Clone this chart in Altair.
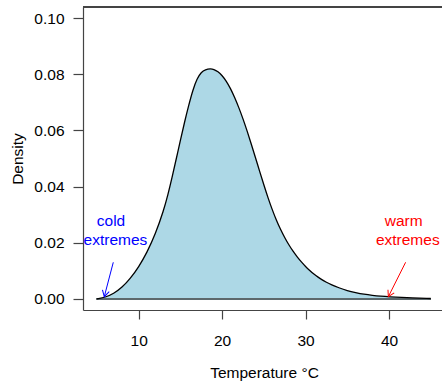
import altair as alt
import pandas as pd

# Density curve (temperature in °C, density)
temp = [5.0, 6.0, 7.0, 8.0, 9.0, 10.0, 11.0, 12.0, 13.0, 13.5, 14.0, 14.5, 15.0,
        15.5, 16.0, 16.5, 17.0, 17.5, 18.0, 18.6, 19.0, 19.5, 20.0, 20.5, 21.0,
        21.5, 22.0, 22.5, 23.0, 23.5, 24.0, 24.5, 25.0, 25.5, 26.0, 26.5, 27.0,
        27.5, 28.0, 28.5, 29.0, 29.5, 30.0, 30.5, 31.0, 31.5, 32.0, 32.5, 33.0,
        34.0, 35.0, 36.0, 37.0, 38.0, 39.0, 40.0, 42.0, 45.0]
density = [0.0000, 0.0005, 0.0018, 0.0040, 0.0072, 0.0113, 0.0165, 0.0230, 0.0315,
           0.0370, 0.0432, 0.0498, 0.0565, 0.0630, 0.0690, 0.0745, 0.0785, 0.0808,
           0.0817, 0.0820, 0.0818, 0.0810, 0.0796, 0.0776, 0.0750, 0.0718, 0.0682,
           0.0642, 0.0598, 0.0551, 0.0503, 0.0454, 0.0406, 0.0360, 0.0318, 0.0280,
           0.0247, 0.0218, 0.0192, 0.0169, 0.0149, 0.0131, 0.0115, 0.0101, 0.0088,
           0.0077, 0.0067, 0.0059, 0.0051, 0.0039, 0.0029, 0.0022, 0.0016, 0.0012,
           0.0009, 0.0007, 0.0004, 0.0001]

# Annotations
note_text = ["cold", "extremes", "warm", "extremes"]
note_x = [6.685, 7.22, 41.76, 42.25]
note_y = [0.0258, 0.0192, 0.0258, 0.0192]
note_side = ["cold", "cold", "warm", "warm"]

arrow_side = ["cold", "warm"]
arrow_x0 = [6.96, 41.99]
arrow_y0 = [0.013, 0.013]
arrow_x1 = [5.88, 39.92]
arrow_y1 = [0.00075, 0.00075]

x_ticks = [10, 20, 30, 40]
y_ticks = [0.0, 0.02, 0.04, 0.06, 0.08, 0.10]

FONT = "Liberation Sans"
FS = 15.5

curve = pd.DataFrame({"temp": temp, "density": density})
notes = pd.DataFrame({"text": note_text, "x": note_x, "y": note_y, "side": note_side})
arrows = pd.DataFrame({"side": arrow_side, "x0": arrow_x0, "y0": arrow_y0,
                       "x1": arrow_x1, "y1": arrow_y1})

xscale = alt.Scale(domain=[3.33, 46.35], nice=False, zero=False)
yscale = alt.Scale(domain=[-0.004, 0.104], nice=False, zero=False)
cscale = alt.Scale(domain=["cold", "warm"], range=["#0000FF", "#FF0000"])

xaxis = alt.Axis(values=x_ticks, title="Temperature °C", grid=False,
                 tickSize=9, labelPadding=21, labelBaseline="middle",
                 labelFont=FONT, labelFontSize=FS, labelColor="black",
                 titleFont=FONT, titleFontSize=FS, titleFontWeight="normal",
                 titleColor="black", titleX=181, titleY=62, titleBaseline="middle",
                 titleAlign="center", domainColor="#444", tickColor="#444",
                 domainWidth=1.2, tickWidth=1.2)
yaxis = alt.Axis(values=y_ticks, format=".2f", title="Density", grid=False,
                 tickSize=10, labelPadding=9, labelFont=FONT, labelFontSize=FS,
                 labelColor="black", titleFont=FONT, titleFontSize=FS,
                 titleFontWeight="normal", titleColor="black", titleX=-66,
                 titleY=151.5, titleAngle=270, titleAlign="center",
                 titleBaseline="middle", domainColor="#444", tickColor="#444",
                 domainWidth=1.2, tickWidth=1.2)

base = alt.Chart(curve)

area = base.mark_area(color="#ADD8E6", interpolate="basis").encode(
    x=alt.X("temp:Q", scale=xscale, axis=xaxis),
    y=alt.Y("density:Q", scale=yscale, axis=yaxis),
    y2=alt.datum(0),
)

baseline = base.mark_rule(color="#5d686c", strokeWidth=1.4).encode(
    x=alt.datum(5), x2=alt.datum(45), y=alt.datum(0)
)

line = base.mark_line(color="black", strokeWidth=1.3, interpolate="basis").encode(
    x=alt.X("temp:Q", scale=xscale),
    y=alt.Y("density:Q", scale=yscale),
)

top_line = base.mark_rule(color="#444", strokeWidth=1.2).encode(
    x=alt.value(0), x2=alt.value(359), y=alt.value(0)
)

text = alt.Chart(notes).mark_text(font=FONT, fontSize=FS, align="center",
                                  baseline="alphabetic").encode(
    x=alt.X("x:Q", scale=xscale),
    y=alt.Y("y:Q", scale=yscale),
    text="text:N",
    color=alt.Color("side:N", scale=cscale, legend=None),
)

shafts = alt.Chart(arrows).mark_rule(strokeWidth=1).encode(
    x=alt.X("x0:Q", scale=xscale),
    y=alt.Y("y0:Q", scale=yscale),
    x2="x1:Q",
    y2="y1:Q",
    color=alt.Color("side:N", scale=cscale, legend=None),
)

head_shape = "M -0.5 -0.866 L 0 0 L 0.5 -0.866"
head_cold = alt.Chart(arrows).transform_filter(alt.datum.side == "cold").mark_point(
    shape=head_shape, filled=False, size=196, strokeWidth=1, angle=15, opacity=1
).encode(
    x=alt.X("x1:Q", scale=xscale),
    y=alt.Y("y1:Q", scale=yscale),
    color=alt.Color("side:N", scale=cscale, legend=None),
)
head_warm = alt.Chart(arrows).transform_filter(alt.datum.side == "warm").mark_point(
    shape=head_shape, filled=False, size=196, strokeWidth=1, angle=27, opacity=1
).encode(
    x=alt.X("x1:Q", scale=xscale),
    y=alt.Y("y1:Q", scale=yscale),
    color=alt.Color("side:N", scale=cscale, legend=None),
)

chart = alt.layer(area, baseline, line, top_line, text, shafts, head_cold, head_warm).properties(
    width=359, height=303,
    padding={"left": 83, "top": 7, "right": 0, "bottom": 72},
    autosize=alt.AutoSizeParams(type="none"),
    background="white",
).configure_view(stroke=None)

chart.save("out.html", embed_options={"renderer": "svg", "actions": False})
